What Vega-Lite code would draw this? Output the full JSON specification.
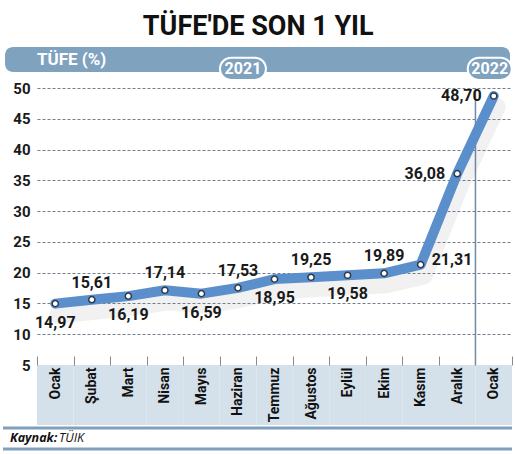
{
  "$schema": "https://vega.github.io/schema/vega-lite/v6.json",
  "width": 475,
  "height": 277,
  "autosize": {"type": "none"},
  "padding": {"left": 37, "top": 88, "right": 3, "bottom": 89},
  "background": "white",
  "config": {
    "view": {"stroke": null},
    "axisY": {
      "title": null,
      "tickCount": 10,
      "domain": false,
      "ticks": false,
      "labelPadding": 7,
      "labelOverlap": false,
      "labelFlush": false,
      "labelFont": "Roboto",
      "labelFontWeight": "bold",
      "labelFontSize": 15,
      "labelColor": "#1a1a1a",
      "grid": true,
      "gridColor": "#6f7f90",
      "gridDash": [3, 2],
      "gridWidth": 1
    },
    "axisX": {
      "title": null,
      "domain": false,
      "labelAngle": -90,
      "labelAlign": "right",
      "labelBaseline": "middle",
      "labelFont": "Roboto",
      "labelFontWeight": "bold",
      "labelFontSize": 14,
      "labelColor": "#111111",
      "labelPadding": 11,
      "labelOverlap": false,
      "tickBand": "extent",
      "tickSize": -9,
      "tickColor": "#8a8a8a",
      "tickWidth": 1
    },
    "locale": {"number": {"decimal": ",", "thousands": ".", "grouping": [3], "currency": ["", " TL"]}},
    "text": {"font": "Roboto"}
  },
  "datasets": {
    "tufe": [
      {"ay": "Ocak 2021", "tufe": 14.97},
      {"ay": "Şubat 2021", "tufe": 15.61},
      {"ay": "Mart 2021", "tufe": 16.19},
      {"ay": "Nisan 2021", "tufe": 17.14},
      {"ay": "Mayıs 2021", "tufe": 16.59},
      {"ay": "Haziran 2021", "tufe": 17.53},
      {"ay": "Temmuz 2021", "tufe": 18.95},
      {"ay": "Ağustos 2021", "tufe": 19.25},
      {"ay": "Eylül 2021", "tufe": 19.58},
      {"ay": "Ekim 2021", "tufe": 19.89},
      {"ay": "Kasım 2021", "tufe": 21.31},
      {"ay": "Aralık 2021", "tufe": 36.08},
      {"ay": "Ocak 2022", "tufe": 48.70}
    ]
  },
  "layer": [
    {
      "data": {"name": "tufe"},
      "mark": {"type": "rect", "fill": "#d4e0ea", "clip": false},
      "encoding": {
        "x": {
          "field": "ay", "type": "nominal",
          "scale": {"domain": ["Ocak 2021", "Şubat 2021", "Mart 2021", "Nisan 2021", "Mayıs 2021", "Haziran 2021", "Temmuz 2021", "Ağustos 2021", "Eylül 2021", "Ekim 2021", "Kasım 2021", "Aralık 2021", "Ocak 2022"], "paddingInner": 0, "paddingOuter": 0},
          "axis": {"labelExpr": "split(datum.label, ' ')[0]", "zindex": 1}
        },
        "y": {
          "datum": 5, "type": "quantitative",
          "scale": {"domain": [5, 50], "nice": false, "zero": false}
        },
        "y2": {"datum": -4.75}
      }
    },
    {
      "data": {"values": [{}]},
      "mark": {"type": "rule", "color": "#6e8aa5", "strokeWidth": 1.5},
      "encoding": {
        "x": {"datum": "Ocak 2022", "type": "nominal", "bandPosition": 0},
        "y": {"datum": 5, "type": "quantitative"},
        "y2": {"datum": 50}
      }
    },
    {
      "data": {"name": "tufe"},
      "mark": {"type": "line", "color": "#777777", "opacity": 0.1, "strokeWidth": 18, "yOffset": 11, "xOffset": 3, "strokeJoin": "round", "strokeCap": "round"},
      "encoding": {
        "x": {"field": "ay", "type": "nominal"},
        "y": {"field": "tufe", "type": "quantitative"}
      }
    },
    {
      "data": {"name": "tufe"},
      "mark": {"type": "line", "color": "#5b8fcb", "strokeWidth": 10, "strokeJoin": "round", "strokeCap": "round"},
      "encoding": {
        "x": {"field": "ay", "type": "nominal"},
        "y": {"field": "tufe", "type": "quantitative"}
      }
    },
    {
      "data": {"name": "tufe"},
      "mark": {"type": "point", "filled": true, "fill": "white", "stroke": "#2a3a4c", "strokeWidth": 1.5, "size": 38, "opacity": 1},
      "encoding": {
        "x": {"field": "ay", "type": "nominal"},
        "y": {"field": "tufe", "type": "quantitative"}
      }
    },
    {
      "data": {"name": "tufe"},
      "transform": [{"filter": {"field": "ay", "oneOf": ["Ocak 2021", "Mart 2021", "Mayıs 2021", "Temmuz 2021", "Eylül 2021"]}}],
      "mark": {"type": "text", "fontSize": 16, "fontWeight": "bold", "color": "#1a1a1a", "baseline": "middle", "align": "center", "dy": 19},
      "encoding": {
        "x": {"field": "ay", "type": "nominal"},
        "y": {"field": "tufe", "type": "quantitative"},
        "text": {"field": "tufe", "type": "quantitative", "format": ".2f"}
      }
    },
    {
      "data": {"name": "tufe"},
      "transform": [{"filter": {"field": "ay", "oneOf": ["Şubat 2021", "Nisan 2021", "Haziran 2021", "Ağustos 2021", "Ekim 2021"]}}],
      "mark": {"type": "text", "fontSize": 16, "fontWeight": "bold", "color": "#1a1a1a", "baseline": "middle", "align": "center", "dy": -17},
      "encoding": {
        "x": {"field": "ay", "type": "nominal"},
        "y": {"field": "tufe", "type": "quantitative"},
        "text": {"field": "tufe", "type": "quantitative", "format": ".2f"}
      }
    },
    {
      "data": {"name": "tufe"},
      "transform": [{"filter": {"field": "ay", "oneOf": ["Kasım 2021"]}}],
      "mark": {"type": "text", "fontSize": 16, "fontWeight": "bold", "color": "#1a1a1a", "baseline": "middle", "align": "left", "dx": 11, "dy": -5},
      "encoding": {
        "x": {"field": "ay", "type": "nominal"},
        "y": {"field": "tufe", "type": "quantitative"},
        "text": {"field": "tufe", "type": "quantitative", "format": ".2f"}
      }
    },
    {
      "data": {"name": "tufe"},
      "transform": [{"filter": {"field": "ay", "oneOf": ["Aralık 2021", "Ocak 2022"]}}],
      "mark": {"type": "text", "fontSize": 16, "fontWeight": "bold", "color": "#1a1a1a", "baseline": "middle", "align": "right", "dx": -12},
      "encoding": {
        "x": {"field": "ay", "type": "nominal"},
        "y": {"field": "tufe", "type": "quantitative"},
        "text": {"field": "tufe", "type": "quantitative", "format": ".2f"}
      }
    },
    {
      "data": {"values": [{}]},
      "mark": {"type": "text", "text": "TÜFE'DE SON 1 YIL", "fontSize": 27, "fontWeight": "bold", "color": "#111111", "align": "center", "baseline": "middle", "clip": false, "xOffset": 2},
      "encoding": {
        "x": {"datum": "Haziran 2021", "type": "nominal", "bandPosition": 1},
        "y": {"datum": 59.9, "type": "quantitative"}
      }
    },
    {
      "data": {"values": [{}]},
      "mark": {"type": "rect", "fill": "#7fa2bf", "cornerRadius": 8, "clip": false, "xOffset": -32, "x2Offset": -2},
      "encoding": {
        "x": {"datum": "Ocak 2021", "type": "nominal", "bandPosition": 0},
        "x2": {"datum": "Ocak 2022", "bandPosition": 1},
        "y": {"datum": 52.6, "type": "quantitative"},
        "y2": {"datum": 56.65}
      }
    },
    {
      "data": {"values": [{}]},
      "mark": {"type": "text", "text": "TÜFE (%)", "fontSize": 17, "fontWeight": "bold", "color": "white", "align": "left", "baseline": "middle", "clip": false},
      "encoding": {
        "x": {"datum": "Ocak 2021", "type": "nominal", "bandPosition": 0},
        "y": {"datum": 54.6, "type": "quantitative"}
      }
    },
    {
      "data": {"values": [{}]},
      "mark": {"type": "rect", "fill": "#7fa2bf", "stroke": "white", "strokeWidth": 2, "cornerRadius": 11, "width": 46, "clip": false, "xOffset": 5},
      "encoding": {
        "x": {"datum": "Haziran 2021", "type": "nominal"},
        "y": {"datum": 51.3, "type": "quantitative"},
        "y2": {"datum": 54.9}
      }
    },
    {
      "data": {"values": [{}]},
      "mark": {"type": "text", "text": "2021", "fontSize": 16, "fontWeight": "bold", "color": "white", "align": "center", "baseline": "middle", "clip": false, "xOffset": 5},
      "encoding": {
        "x": {"datum": "Haziran 2021", "type": "nominal"},
        "y": {"datum": 53.1, "type": "quantitative"}
      }
    },
    {
      "data": {"values": [{}]},
      "mark": {"type": "rect", "fill": "#7fa2bf", "stroke": "white", "strokeWidth": 2, "cornerRadius": 11, "width": 44, "clip": false, "xOffset": -4},
      "encoding": {
        "x": {"datum": "Ocak 2022", "type": "nominal"},
        "y": {"datum": 51.3, "type": "quantitative"},
        "y2": {"datum": 54.9}
      }
    },
    {
      "data": {"values": [{}]},
      "mark": {"type": "text", "text": "2022", "fontSize": 16, "fontWeight": "bold", "color": "white", "align": "center", "baseline": "middle", "clip": false, "xOffset": -4},
      "encoding": {
        "x": {"datum": "Ocak 2022", "type": "nominal"},
        "y": {"datum": 53.1, "type": "quantitative"}
      }
    },
    {
      "data": {"values": [{"y": -5.23}, {"y": -8.65}]},
      "mark": {"type": "rule", "color": "#7f9fbb", "strokeWidth": 3, "clip": false, "xOffset": -34},
      "encoding": {
        "x": {"datum": "Ocak 2021", "type": "nominal", "bandPosition": 0},
        "x2": {"datum": "Ocak 2022", "bandPosition": 1},
        "y": {"field": "y", "type": "quantitative"}
      }
    },
    {
      "data": {"values": [{}]},
      "mark": {"type": "text", "text": "Kaynak:", "font": "Open Sans", "fontStyle": "italic", "fontWeight": "bold", "fontSize": 12.5, "color": "#111111", "align": "left", "baseline": "middle", "xOffset": -27, "clip": false},
      "encoding": {
        "x": {"datum": "Ocak 2021", "type": "nominal", "bandPosition": 0},
        "y": {"datum": -6.9, "type": "quantitative"}
      }
    },
    {
      "data": {"values": [{}]},
      "mark": {"type": "text", "text": "TÜIK", "font": "Open Sans", "fontStyle": "italic", "fontSize": 12.5, "color": "#111111", "align": "left", "baseline": "middle", "xOffset": 22, "clip": false},
      "encoding": {
        "x": {"datum": "Ocak 2021", "type": "nominal", "bandPosition": 0},
        "y": {"datum": -6.9, "type": "quantitative"}
      }
    }
  ]
}
